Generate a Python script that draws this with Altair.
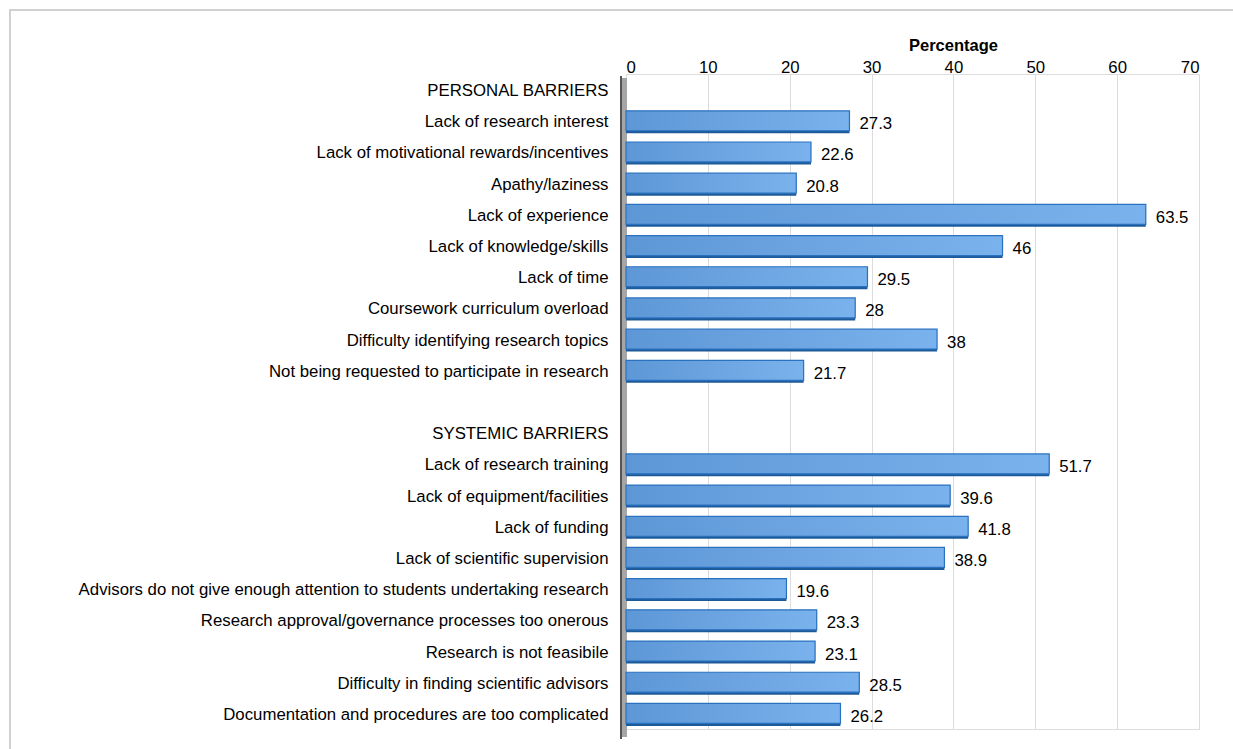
import altair as alt
import pandas as pd

categories = [
    "PERSONAL BARRIERS",
    "Lack of research interest",
    "Lack of motivational rewards/incentives",
    "Apathy/laziness",
    "Lack of experience",
    "Lack of knowledge/skills",
    "Lack of time",
    "Coursework curriculum overload",
    "Difficulty identifying research topics",
    "Not being requested to participate in research",
    " ",
    "SYSTEMIC BARRIERS",
    "Lack of research training",
    "Lack of equipment/facilities",
    "Lack of funding",
    "Lack of scientific supervision",
    "Advisors do not give enough attention to students undertaking research",
    "Research approval/governance processes too onerous",
    "Research is not feasibile",
    "Difficulty in finding scientific advisors",
    "Documentation and procedures are too complicated",
]
values = [None, 27.3, 22.6, 20.8, 63.5, 46, 29.5, 28, 38, 21.7,
          None, None, 51.7, 39.6, 41.8, 38.9, 19.6, 23.3, 23.1, 28.5, 26.2]
value_labels = ["", "27.3", "22.6", "20.8", "63.5", "46", "29.5", "28", "38", "21.7",
                "", "", "51.7", "39.6", "41.8", "38.9", "19.6", "23.3", "23.1", "28.5", "26.2"]
x_ticks = [0, 10, 20, 30, 40, 50, 60, 70]

df = pd.DataFrame({"cat": categories, "val": values, "lab": value_labels})

W, H = 573, 655
FONT = "Liberation Sans"
FS = 16.8

xscale = alt.Scale(domain=[0, 70], nice=False)
yscale = alt.Scale(domain=categories, paddingInner=0.36, paddingOuter=0.18)

base = alt.Chart(df)

y_enc = alt.Y("cat:N", sort=categories, scale=yscale,
              axis=alt.Axis(title=None, domain=False, ticks=False, labelPadding=18,
                            labelFontSize=FS, labelColor="#000000", labelFont=FONT,
                            labelLimit=800, labelOffset=1.5))

frame = base.mark_rect(fill=None, stroke="#d0d0d0", strokeWidth=2).encode(
    x=alt.value(-616), x2=alt.value(W + 60), y=alt.value(-64), y2=alt.value(H + 60)
).transform_filter("datum.cat == 'PERSONAL BARRIERS'")

wall = base.mark_rect(fill="#a6a6a6").encode(
    x=alt.value(-5), x2=alt.value(1), y=alt.value(4), y2=alt.value(H + 8)
).transform_filter("datum.cat == 'PERSONAL BARRIERS'")
wall_edge = base.mark_rule(color="#555555", strokeWidth=2).encode(
    x=alt.value(-5), y=alt.value(2), y2=alt.value(H + 10)
).transform_filter("datum.cat == 'PERSONAL BARRIERS'")

bars_valid = base.transform_filter("isValid(datum.val)")

shadow = bars_valid.mark_bar(color="#1d5a99", yOffset=2.5).encode(
    x=alt.X("val:Q", scale=xscale,
            axis=alt.Axis(orient="top", values=x_ticks, title="Percentage",
                          titleFontWeight="bold", titleFontSize=16.5, titleFont=FONT,
                          titleColor="#000000", titleX=327, titleY=-24,
                          titleBaseline="alphabetic", titleAnchor="middle",
                          labelFontSize=FS, labelFont=FONT, labelColor="#000000",
                          labelPadding=-2, domain=False, ticks=False,
                          grid=True, gridColor="#dcdcdc", gridWidth=1)),
    y=y_enc,
)

bars = bars_valid.mark_bar(
    color=alt.Gradient(gradient="linear", x1=0, x2=1, y1=0, y2=0,
                       stops=[alt.GradientStop(offset=0, color="#5e97d6"),
                              alt.GradientStop(offset=1, color="#79b2ec")]),
    stroke="#2a72c0", strokeWidth=1.2,
).encode(x="val:Q", y=alt.Y("cat:N", sort=categories, scale=yscale))

text = bars_valid.mark_text(align="left", baseline="middle", dx=10, dy=3.5,
                            fontSize=FS, font=FONT, color="#000000").encode(
    x="val:Q", y=alt.Y("cat:N", sort=categories, scale=yscale), text="lab:N")

chart = alt.layer(frame, wall, wall_edge, shadow, bars, text).properties(
    width=W, height=H,
    padding={"left": 626, "top": 74, "right": 34, "bottom": 20},
    autosize=alt.AutoSizeParams(type="none"),
).configure_view(stroke=None).configure(background="#ffffff")

chart.save("out.html", embed_options={"renderer": "svg", "actions": False})
